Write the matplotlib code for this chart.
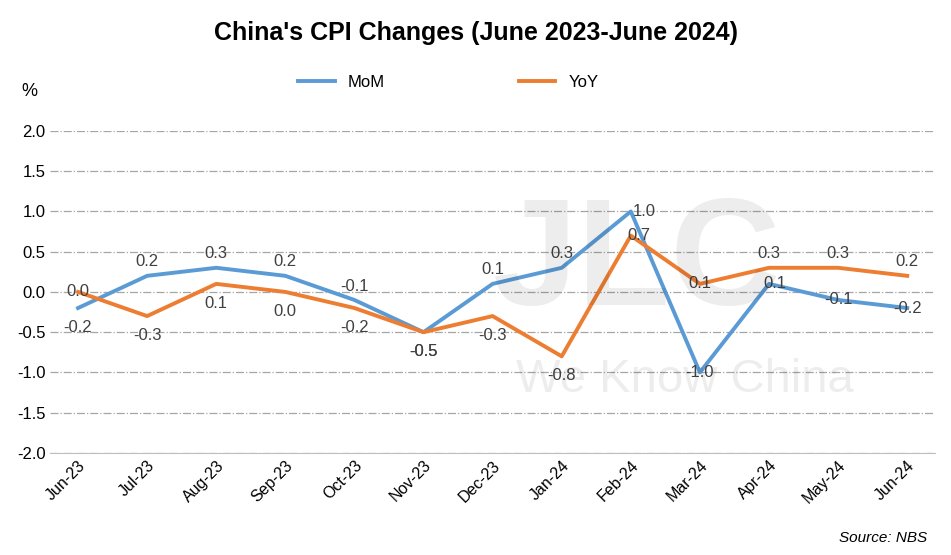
import matplotlib.pyplot as plt
import numpy as np

plt.rcParams["font.family"] = "Liberation Sans"

months = ["Jun-23", "Jul-23", "Aug-23", "Sep-23", "Oct-23", "Nov-23", "Dec-23",
          "Jan-24", "Feb-24", "Mar-24", "Apr-24", "May-24", "Jun-24"]
mom = [-0.2, 0.2, 0.3, 0.2, -0.1, -0.5, 0.1, 0.3, 1.0, -1.0, 0.1, -0.1, -0.2]
yoy = [0.0, -0.3, 0.1, 0.0, -0.2, -0.5, -0.3, -0.8, 0.7, 0.1, 0.3, 0.3, 0.2]

# label offsets in points (dx, dy)
mom_off = [(0, -14), (0, 10), (0, 10), (0, 10), (0, 10), (0, -14), (0, 10),
           (0, 10), (10, 0), (0, 0), (4, 0), (0, 0), (0, 0)]
yoy_off = [(0, 0), (0, -14), (0, -14), (0, -14), (0, -14), (0, -14), (0, -14),
           (0, -14), (6, 0), (0, 0), (0, 10), (0, 10), (0, 10)]

fig = plt.figure(figsize=(9.51, 5.55), dpi=100)
ax = fig.add_axes([0.053, 0.184, 0.93, 0.58])
x = np.arange(len(months))

# faint watermark
fig.text(0.67, 0.52, "JLC", fontsize=110, color="#000000", alpha=0.07,
         ha="center", va="center", fontweight="bold")
fig.text(0.72, 0.315, "We Know China", fontsize=34, color="#000000", alpha=0.07,
         ha="center", va="center")

ax.plot(x, mom, color="#5B9BD5", lw=2.8, label="MoM")
ax.plot(x, yoy, color="#ED7D31", lw=2.8, label="YoY")

for xi, v, (dx, dy) in zip(x, mom, mom_off):
    ax.annotate(f"{v:.1f}", (xi, v), xytext=(dx, dy), textcoords="offset points",
                ha="center", va="center", fontsize=12, color="#404040")
for xi, v, (dx, dy) in zip(x, yoy, yoy_off):
    ax.annotate(f"{v:.1f}", (xi, v), xytext=(dx, dy), textcoords="offset points",
                ha="center", va="center", fontsize=12, color="#404040")

ax.set_ylim(-2.0, 2.0)
ax.set_yticks(np.arange(-2.0, 2.01, 0.5))
ax.set_yticklabels([f"{t:.1f}" for t in np.arange(-2.0, 2.01, 0.5)], fontsize=12)
ax.set_xlim(-0.4, len(months) - 0.6)
ax.set_xticks(x)
ax.set_xticklabels(months, rotation=45, ha="right", rotation_mode="anchor", fontsize=11.5)
ax.grid(axis="y", color="#a6a6a6", ls="-.", lw=0.9)
ax.tick_params(length=0)
for s in ["top", "right", "left"]:
    ax.spines[s].set_visible(False)
ax.spines["bottom"].set_color("#bfbfbf")

fig.text(0.5, 0.94, "China's CPI Changes (June 2023-June 2024)", ha="center",
         va="center", fontsize=18, fontweight="bold")
fig.text(0.022, 0.835, "%", fontsize=13, va="center")
ax.legend(loc="lower center", bbox_to_anchor=(0.45, 1.08), ncol=2, frameon=False,
          fontsize=12, handlelength=2.2, columnspacing=8)
fig.text(0.975, 0.03, "Source: NBS", ha="right", va="center", fontsize=11,
         style="italic")

fig.savefig("out.png", dpi=100)
